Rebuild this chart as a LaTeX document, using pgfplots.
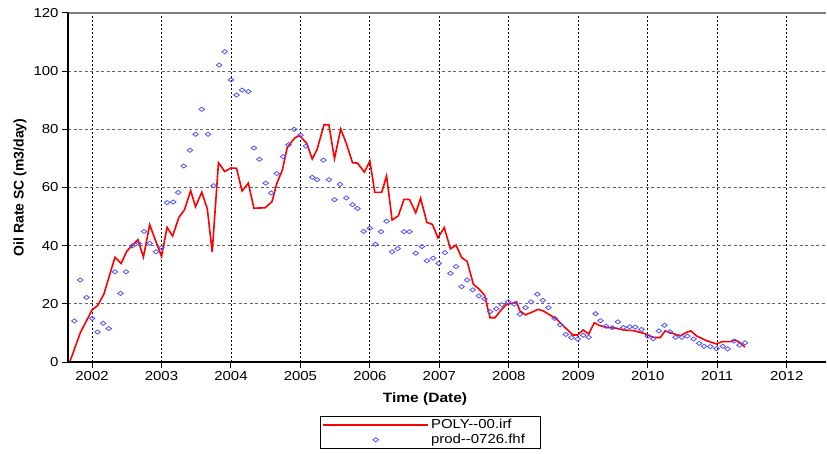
\documentclass[border=0pt]{standalone}
\usepackage{pgfplots}
\pgfplotsset{compat=1.18}
\usepackage{fontspec}
\setmainfont{Liberation Sans}[FakeStretch=1.15]
\newfontfamily\labelfont{Liberation Sans}
\definecolor{simred}{RGB}{255,0,0}
\definecolor{obsblue}{RGB}{80,80,255}

% long legend samples: a line, and a single centred mark
\pgfplotsset{
  lineleg/.style={legend image code/.code={\draw[##1] (0pt,0pt) -- (105pt,0pt);}},
  markleg/.style={legend image code/.code={\path (0pt,0pt) (105pt,0pt);
      \draw[##1] plot coordinates {(52.5pt,0pt)};}},
}

% simulated oil rate (m3/day) against decimal year
\pgfplotstableread{
t        q
2001.68  0
2001.83  10.0
2002.00  17.9
2002.08  19.4
2002.17  23.3
2002.33  36.0
2002.42  33.9
2002.50  38.1
2002.66  42.1
2002.74  36.1
2002.83  47.2
2003.00  36.3
2003.08  46.3
2003.16  43.3
2003.25  49.7
2003.33  52.3
2003.42  58.9
2003.49  53.4
2003.58  58.4
2003.66  52.6
2003.73  37.8
2003.82  68.5
2003.91  65.5
2004.00  66.7
2004.08  66.6
2004.16  58.8
2004.25  61.5
2004.33  52.9
2004.49  53.0
2004.59  55.1
2004.66  61.4
2004.74  66.0
2004.81  73.8
2004.92  77.1
2004.99  77.8
2005.09  75.2
2005.17  69.8
2005.24  73.1
2005.34  81.6
2005.41  81.5
2005.49  69.9
2005.58  80.1
2005.66  75.2
2005.75  68.5
2005.82  68.4
2005.92  65.3
2006.00  69.1
2006.07  58.3
2006.17  58.3
2006.24  64.0
2006.32  48.8
2006.41  50.3
2006.49  55.9
2006.57  55.9
2006.66  51.3
2006.73  56.3
2006.82  48.0
2006.90  47.3
2006.98  42.7
2007.07  46.2
2007.16  38.9
2007.24  40.2
2007.32  35.9
2007.40  34.6
2007.49  26.7
2007.57  25.1
2007.65  23.0
2007.73  15.2
2007.80  15.2
2007.89  17.9
2007.97  19.9
2008.05  20.2
2008.11  20.7
2008.16  17.6
2008.24  16.2
2008.32  17.0
2008.42  18.1
2008.50  17.5
2008.59  16.2
2008.69  14.7
2008.74  13.5
2008.92  9.3
2008.99  9.3
2009.07  11.0
2009.15  9.6
2009.23  13.5
2009.31  12.5
2009.41  11.9
2009.55  11.6
2009.65  11.0
2009.79  10.8
2009.94  9.9
2010.08  8.5
2010.18  8.4
2010.25  10.7
2010.35  9.9
2010.47  9.0
2010.55  10.1
2010.62  10.7
2010.70  9.0
2010.85  7.3
2010.99  6.2
2011.07  7.0
2011.19  7.0
2011.26  7.6
2011.33  6.6
2011.40  5.1
}\simtable

% measured monthly oil rate (m3/day)
\pgfplotstableread{
t        q
2001.745 14.1
2001.83  28.2
2001.92  22.2
2002.00  15.0
2002.08  10.3
2002.16  13.3
2002.24  11.5
2002.33  31.0
2002.41  23.6
2002.49  31.0
2002.58  39.9
2002.67  40.8
2002.75  44.9
2002.83  40.8
2002.92  37.9
2003.00  39.3
2003.08  54.8
2003.17  55.0
2003.24  58.3
2003.32  67.4
2003.41  72.8
2003.49  78.3
2003.58  86.9
2003.67  78.3
2003.75  60.6
2003.83  102.1
2003.91  106.7
2004.00  97.0
2004.08  91.8
2004.16  93.5
2004.25  93.0
2004.33  73.6
2004.41  69.7
2004.50  61.5
2004.58  58.1
2004.66  64.8
2004.75  70.6
2004.83  74.7
2004.91  80.0
2005.00  78.0
2005.08  74.2
2005.17  63.5
2005.24  62.7
2005.33  69.4
2005.41  62.7
2005.49  55.8
2005.57  61.1
2005.66  56.4
2005.75  54.1
2005.82  52.8
2005.91  44.9
2006.00  46.0
2006.08  40.5
2006.16  44.8
2006.24  48.4
2006.32  37.9
2006.40  39.0
2006.49  44.8
2006.57  44.8
2006.66  37.4
2006.75  39.7
2006.82  34.8
2006.91  35.7
2006.99  33.9
2007.08  37.6
2007.16  30.5
2007.24  32.8
2007.32  25.9
2007.40  28.2
2007.48  24.8
2007.57  22.7
2007.65  21.7
2007.73  17.3
2007.82  18.3
2007.90  19.7
2007.99  20.7
2008.08  19.9
2008.16  16.4
2008.24  18.7
2008.32  20.7
2008.41  23.3
2008.49  21.2
2008.57  18.7
2008.66  15.0
2008.74  12.8
2008.82  9.5
2008.90  8.4
2008.99  7.9
2009.07  9.2
2009.15  8.5
2009.25  16.6
2009.32  14.2
2009.40  12.3
2009.49  11.8
2009.57  13.8
2009.65  11.9
2009.74  12.1
2009.82  12.0
2009.91  11.2
2010.00  8.9
2010.08  8.0
2010.16  10.7
2010.24  12.6
2010.32  10.4
2010.40  8.5
2010.49  8.5
2010.57  8.9
2010.66  7.9
2010.74  6.4
2010.81  5.4
2010.90  5.3
2010.99  4.6
2011.08  5.4
2011.15  4.5
2011.24  7.2
2011.32  5.8
2011.40  6.6
}\obstable

\begin{document}
\begin{tikzpicture}[x=1pt,y=1pt]
\begin{axis}[
  at={(68pt,91pt)}, anchor=south west,
  scale only axis, width=758pt, height=349pt,
  xmin=2001.654, xmax=2012.566, ymin=0, ymax=120,
  xtick={2002,2003,...,2012}, ytick={0,20,...,120},
  /pgf/number format/1000 sep={},
  /pgf/number format/assume math mode=true,
  tick align=outside, tick pos=left,
  major tick length=6pt,
  tick style={black, line width=1pt},
  ticklabel style={font=\fontsize{13}{14}\selectfont},
  grid=major,
  major x grid style={black, line width=0.8pt, dash pattern=on 2pt off 2pt},
  major y grid style={black!60, line width=0.9pt, dash pattern=on 3pt off 2.5pt},
  axis line style={draw=none},
  xlabel={Time (Date)},
  xlabel style={at={(axis description cs:0.471,0)}, anchor=center, yshift=-37pt,
    font=\fontsize{13.5}{15}\selectfont\bfseries},
  ylabel={Oil Rate SC (m3/day)},
  ylabel style={at={(axis description cs:-0.0633,0.5)}, anchor=center,
    font=\labelfont\fontsize{14}{16}\selectfont\bfseries},
  legend style={at={(axis description cs:0.3325,-0.1547)}, anchor=north west,
    draw=black, line width=0.8pt, font=\fontsize{13}{14}\selectfont,
    inner xsep=2pt, inner ysep=1pt, row sep=0pt},
  legend cell align=left,
  after end axis/.code={
    \draw[black!50, line width=1.5pt] (rel axis cs:0,1) -- (rel axis cs:1,1);
    \draw[black, line width=1.8pt] (rel axis cs:0,1) -- (rel axis cs:0,0) -- (rel axis cs:1,0);
  },
]
\addplot[simred, line width=1.6pt, no marks, lineleg]
  table[x=t, y=q] {\simtable};
\addlegendentry{POLY-{}-00.irf}
\addplot[obsblue, only marks, mark=diamond, mark size=2.8pt,
  mark options={rotate=90, line width=0.8pt, fill=none}, markleg]
  table[x=t, y=q] {\obstable};
\addlegendentry{prod-{}-0726.fhf\hspace*{11pt}}
\end{axis}
\pgfresetboundingbox
\useasboundingbox (0,0) rectangle (827,453);
\end{tikzpicture}
\end{document}
